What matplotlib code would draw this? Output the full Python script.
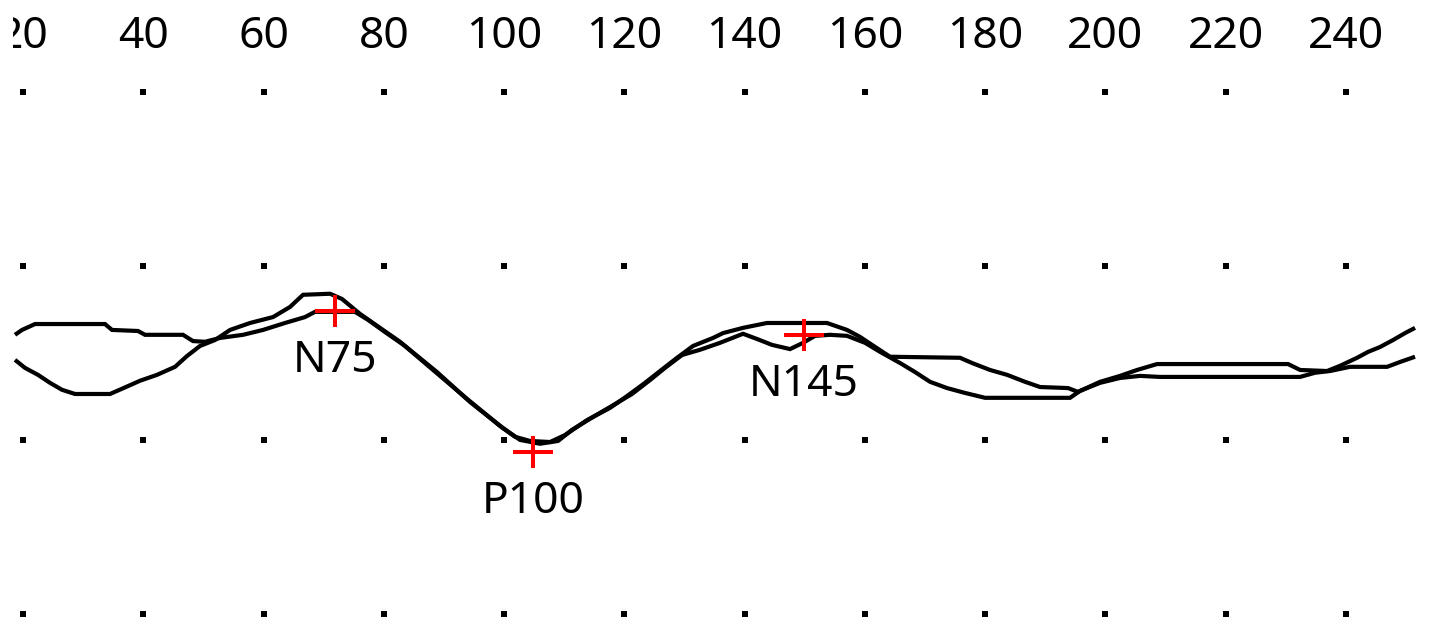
import matplotlib
matplotlib.use("Agg")
import matplotlib.pyplot as plt
from matplotlib.transforms import Bbox, TransformedBbox
import numpy as np

# ---- data (latency ms, amplitude uV; negative plotted upward) ----
trace_a_t = [18.67, 19.83, 22.00, 33.64, 34.80, 39.13, 40.29, 46.61, 48.27, 50.27,
             52.76, 56.59, 59.91, 63.57, 66.90, 68.56, 75.21, 77.38, 80.20, 83.53,
             88.85, 94.34, 99.83, 102.66, 105.98, 108.98, 111.30, 114.80, 118.46, 121.28,
             124.28, 126.77, 129.60, 132.59, 135.92, 139.74, 142.07, 144.57, 147.56, 149.72,
             151.72, 154.21, 157.04, 160.03, 162.53, 165.85, 168.35, 170.84, 173.67, 176.66,
             179.99, 194.13, 195.79, 199.12, 202.44, 205.77, 209.09, 232.38, 234.87, 237.37,
             240.69, 246.85, 249.01, 251.50]
trace_a_v = [-0.52, -0.66, -0.83, -0.83, -0.66, -0.63, -0.52, -0.52, -0.34, -0.32,
             -0.43, -0.52, -0.66, -0.86, -1.03, -1.18, -1.18, -0.95, -0.60, -0.20,
             0.55, 1.41, 2.16, 2.50, 2.61, 2.53, 2.21, 1.84, 1.47, 1.18,
             0.78, 0.43, 0.06, -0.09, -0.29, -0.55, -0.40, -0.23, -0.11, -0.29,
             -0.49, -0.52, -0.49, -0.29, -0.03, 0.29, 0.55, 0.83, 1.01, 1.15,
             1.29, 1.29, 1.09, 0.86, 0.72, 0.66, 0.69, 0.69, 0.57, 0.52,
             0.40, 0.40, 0.26, 0.11]

trace_b_t = [18.67, 20.33, 22.49, 24.49, 26.49, 28.65, 34.47, 36.46, 39.46, 42.29,
             45.28, 47.27, 49.44, 51.93, 54.43, 57.75, 61.58, 64.40, 66.57, 71.06,
             73.05, 76.05, 79.37, 82.70, 88.19, 93.84, 99.33, 101.82, 104.32, 107.65,
             110.14, 113.80, 117.62, 120.45, 123.44, 125.94, 128.77, 131.43, 134.75, 136.42,
             139.74, 143.73, 153.71, 157.04, 159.20, 161.20, 164.19, 175.83, 177.83, 180.82,
             183.65, 186.64, 189.14, 193.79, 195.46, 199.12, 202.44, 205.27, 208.60, 230.38,
             232.38, 236.87, 239.03, 241.86, 243.69, 245.68, 247.84, 249.84, 251.50]
trace_b_v = [0.20, 0.43, 0.63, 0.86, 1.06, 1.18, 1.18, 1.03, 0.80, 0.63,
             0.40, 0.09, -0.20, -0.37, -0.66, -0.86, -1.03, -1.32, -1.67, -1.70,
             -1.55, -1.12, -0.72, -0.32, 0.49, 1.32, 2.10, 2.41, 2.53, 2.56,
             2.36, 1.93, 1.58, 1.24, 0.86, 0.52, 0.14, -0.20, -0.43, -0.57,
             -0.72, -0.86, -0.86, -0.66, -0.46, -0.23, 0.11, 0.14, 0.29, 0.49,
             0.63, 0.83, 0.98, 1.01, 1.12, 0.83, 0.66, 0.49, 0.32, 0.32,
             0.49, 0.52, 0.37, 0.14, -0.03, -0.17, -0.37, -0.57, -0.72]

peak_names = ["N75", "P100", "N145"]
peak_t = [71.89, 104.82, 149.89]
peak_v = [-1.21, 2.84, -0.52]

tick_values = [20, 40, 60, 80, 100, 120, 140, 160, 180, 200, 220, 240]
grid_rows = [-7.5, -2.5, 2.5, 7.5]

# ---- figure ----
W, H, DPI = 1429, 631, 100
fig = plt.figure(figsize=(W / DPI, H / DPI), dpi=DPI)
ax = fig.add_axes([0, 0, 1, 1])
X0, X1 = 16.175, 253.82
Y0, Y1 = 7.99, -10.14
ax.set_xlim(X0, X1)
ax.set_ylim(Y0, Y1)
ax.axis("off")
fig.patch.set_facecolor("white")

font = dict(family=["Noto Sans", "DejaVu Sans"], size=32, color="black")

# grid dots
gx, gy = np.meshgrid(tick_values, grid_rows)
ax.plot(gx.ravel(), gy.ravel(), ls="none", marker="s", ms=4.3, color="black", mew=0)

# tick labels along the top (the first one is cut at the left edge of the display)
clip = TransformedBbox(Bbox([[18.3, Y1], [X1, Y0]]), ax.transData)
for i, t in enumerate(tick_values):
    txt = ax.text(t, -8.76, str(t), ha="center", va="baseline", **font)
    if i == 0:
        txt.set_clip_box(clip)
        txt.set_clip_on(True)

# traces
ax.plot(trace_a_t, trace_a_v, color="black", lw=3.0, solid_joinstyle="miter", solid_capstyle="butt")
ax.plot(trace_b_t, trace_b_v, color="black", lw=3.0, solid_joinstyle="miter", solid_capstyle="butt")

# peak markers
ax.errorbar(peak_t, peak_v, xerr=3.3, yerr=0.46, fmt="none", ecolor="#ff0000",
            elinewidth=2.9, capsize=0, zorder=5)
for name, t, v in zip(peak_names, peak_t, peak_v):
    ax.annotate(name, (t, v), xytext=(0, -61), textcoords="offset pixels",
                ha="center", va="baseline", **font)

fig.savefig("out.png", dpi=DPI, facecolor="white")
